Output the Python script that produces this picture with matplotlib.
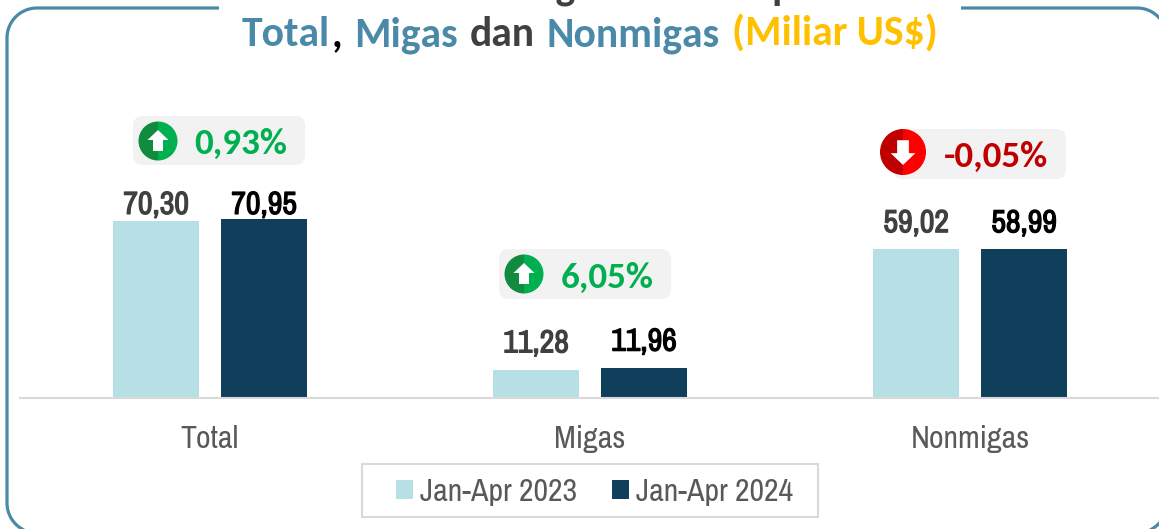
"""
Ekspor Jan-Apr bars with change badges.
"""

import matplotlib
matplotlib.use("Agg")
import numpy as np
import matplotlib.pyplot as plt
import matplotlib.patheffects as pe
from matplotlib.patches import FancyBboxPatch, Wedge, Polygon, Rectangle

categories = ["Total", "Migas", "Nonmigas"]
values_2023 = [70.30, 11.28, 59.02]
values_2024 = [70.95, 11.96, 58.99]
series_names = ["Jan-Apr 2023", "Jan-Apr 2024"]
changes = ["0,93%", "6,05%", "-0,05%"]

W, H = 1159, 529
LIGHT = "#B7DFE6"
DARK = "#0F3F5A"
BLUE = "#4A8AA8"
GREEN = "#00B050"
GREEN_D = "#118C3F"
RED = "#FF0000"
RED_D = "#C00000"
NARROW = ["Archivo Narrow", "Roboto Condensed", "Liberation Sans"]
HEAD = ["Carlito", "Lato"]

fig = plt.figure(figsize=(W / 100, H / 100), dpi=100)
fig.patch.set_facecolor("white")

# chart axes, placed in pixels: baseline at y=398, 2.518 px per unit
ymax = 120
ax = fig.add_axes([20 / W, (H - 398) / H, 1140 / W, ymax * 2.518 / H])
ax.patch.set_alpha(0)
x = np.arange(len(categories))
b1 = ax.bar(x - 0.142, values_2023, 0.224, color=LIGHT, label=series_names[0])
b2 = ax.bar(x + 0.142, values_2024, 0.224, color=DARK, label=series_names[1])
ax.set_xlim(-0.5, 2.5)
ax.set_ylim(0, ymax)
ax.set_yticks([])
ax.set_xticks(x, categories, family=NARROW, fontsize=23, color="#595959")
ax.tick_params(axis="x", length=0, pad=19.5)
for s in ["top", "left", "right"]:
    ax.spines[s].set_visible(False)
ax.spines["bottom"].set_color("#D9D9D9")
ax.spines["bottom"].set_linewidth(1.5)


def comma(vals):
    return [("%.2f" % v).replace(".", ",") for v in vals]


# archivo narrow has no bold cut here, so thicken the labels with a stroke
for bars, vals, col, pad in [(b1, values_2023, "#404040", [1.5, 8.8, 8.8]),
                             (b2, values_2024, "black", [0.3, 8.8, 8.8])]:
    labs = ax.bar_label(bars, labels=comma(vals), family=NARROW,
                        fontsize=23, fontweight="bold", color=col)
    for lab, p in zip(labs, pad):
        lab.xyann = (0, p)
        lab.set_path_effects([pe.withStroke(linewidth=0.9, foreground=col)])

leg = ax.legend(loc="center", bbox_to_anchor=(594.5 / W, 1 - 492 / H),
                bbox_transform=fig.transFigure, ncol=2, frameon=False,
                prop={"family": NARROW, "size": 23}, labelcolor="#595959",
                handlelength=0.53, handleheight=0.53, handletextpad=0.22,
                columnspacing=1.07, borderpad=0, borderaxespad=0)

# overlay in image pixels for the frame, title and badges
ov = fig.add_axes([0, 0, 1, 1], zorder=5)
ov.set_xlim(0, W)
ov.set_ylim(H, 0)
ov.axis("off")
ov.patch.set_alpha(0)

ov.add_patch(Rectangle((362, 464), 456, 53, fill=False, ec="#D9D9D9", lw=1.5))


def corner(cx, cy, r, a0, a1):
    a = np.radians(np.linspace(a0, a1, 30))
    return np.column_stack([cx + r * np.cos(a), cy + r * np.sin(a)])


L, T, R, B, r = 7, 8, 1167, 533, 30
frame = np.vstack([[(219, T)], corner(L + r, T + r, r, 270, 180), corner(L + r, B - r, r, 180, 90),
                   corner(R - r, B - r, r, 90, 0), corner(R - r, T + r, r, 0, -90), [(961, T)]])
ov.plot(frame[:, 0], frame[:, 1], color=BLUE, lw=2.3, clip_on=True, solid_capstyle="butt")

# title pieces, one colour each
pieces = [("Total", BLUE), (",", "black"), (" ", "black"), ("Migas", BLUE), (" ", "black"),
          ("dan", "#404040"), (" ", "black"), ("Nonmigas", BLUE), (" ", "black"),
          ("(Miliar US$)", "#FFC000")]
fig.canvas.draw()
rend = fig.canvas.get_renderer()
tx = 242
for s, c in pieces:
    if s == " ":
        tx += 11
        continue
    t = ov.text(tx, 46, s, color=c, family=HEAD, fontweight="bold", fontsize=30,
                ha="left", va="baseline")
    tx += t.get_window_extent(rend).width + 1

# first title line, cut off by the top of the image
ov.text(595, -1, "Perkembangan Nilai Ekspor", color="#404040", family=HEAD, fontweight="bold",
        fontsize=30, ha="center", va="baseline", clip_on=True)


def badge(x0, x1, y0, y1, cx, cy, rad, up, label, tx, ty, col, c_dark, c_light):
    ov.add_patch(FancyBboxPatch((x0 + 10, y0 + 10), x1 - x0 - 20, y1 - y0 - 20,
                                boxstyle="round,pad=10,rounding_size=10", fc="#F2F2F2", ec="none"))
    ov.add_patch(Wedge((cx, cy), rad, 90, 270, fc=c_dark, ec="none"))
    ov.add_patch(Wedge((cx, cy), rad, -90, 90, fc=c_light, ec="none"))
    s = rad / 19.5
    d = -1 if up else 1
    # arrow head and shaft, relative to the circle centre
    pts = [(-10.5, 1 * d), (0, 11 * d), (10.5, 1 * d), (5, 1 * d), (5, -10 * d), (-5, -10 * d), (-5, 1 * d)]
    ov.add_patch(Polygon([(cx + a * s, cy + b * s) for a, b in pts], fc="white", ec="none"))
    ov.text(tx, ty, label, color=col, family=HEAD, fontweight="bold", fontsize=26.7,
            ha="center", va="center")


badge(133, 305, 116, 165, 158, 141, 19.5, True, changes[0], 241, 144, GREEN, GREEN_D, GREEN)
badge(499, 671, 249, 299, 524, 274, 19.5, True, changes[1], 607, 278, GREEN, GREEN_D, GREEN)
badge(893, 1066, 129, 179, 903, 152, 23, False, changes[2], 996, 157, RED_D, RED_D, RED)

fig.savefig("out.png", dpi=100)
